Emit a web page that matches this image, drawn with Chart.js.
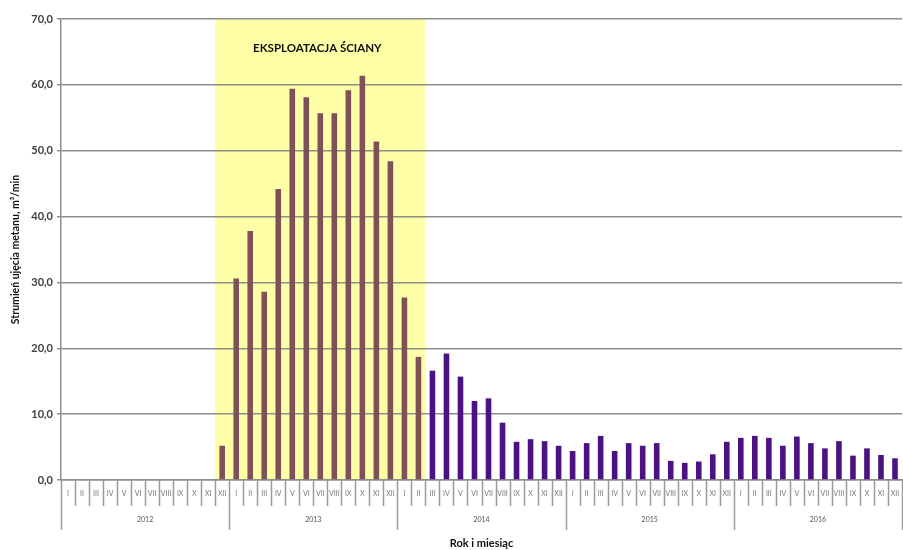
<!DOCTYPE html>
<html><head><meta charset="utf-8">
<script src="https://cdn.jsdelivr.net/npm/chart.js@4/dist/chart.umd.min.js"></script>
<style>html,body{margin:0;padding:0;background:#fff}#wrap{width:903px;height:550px;position:relative}</style>
</head><body><div id="wrap"><canvas id="c"></canvas></div>
<script>
const years = ['2012', '2013', '2014', '2015', '2016'];
const months = ['I','II','III','IV','V','VI','VII','VIII','IX','X','XI','XII'];
const v2012 = [null,null,null,null,null,null,null,null,null,null,null,5.2];
const v2013 = [30.6,37.8,28.6,44.2,59.4,58.1,55.7,55.7,59.2,61.4,51.4,48.4];
const v2014 = [27.7,18.7,16.6,19.2,15.7,12.0,12.4,8.7,5.8,6.2,5.9,5.2];
const v2015 = [4.4,5.6,6.7,4.4,5.6,5.2,5.6,2.9,2.6,2.8,3.9,5.8];
const v2016 = [6.4,6.7,6.4,5.2,6.6,5.6,4.8,5.9,3.7,4.8,3.8,3.3];
const bandStart = 11;   // 2012 XII
const bandEnd = 25;     // 2014 II
const bandLabel = 'EKSPLOATACJA ŚCIANY';
const yTitle = 'Strumień ujęcia metanu, m³/min';
const xTitle = 'Rok i miesiąc';

const allValues = [].concat(v2012, v2013, v2014, v2015, v2016);
const labels = [];
years.forEach(() => months.forEach(m => labels.push(m)));
const exploitation = allValues.map((v, i) => (i >= bandStart && i <= bandEnd) ? v : null);
const afterwards = allValues.map((v, i) => (i > bandEnd) ? v : null);

const FONT = 'Lato, "Open Sans", sans-serif';

const bandPlugin = {
  id: 'band',
  beforeDraw(chart) {
    const {ctx, chartArea} = chart;
    const x = chart.scales.x;
    const half = (x.getPixelForValue(1) - x.getPixelForValue(0)) / 2;
    const x0 = x.getPixelForValue(bandStart) - half;
    const x1 = x.getPixelForValue(bandEnd) + half;
    ctx.save();
    ctx.fillStyle = '#FFFFA8';
    ctx.fillRect(x0, chartArea.top, x1 - x0, chartArea.bottom - chartArea.top);
    ctx.fillStyle = '#111';
    ctx.font = 'bold 11.5px ' + FONT;
    ctx.textAlign = 'center';
    ctx.textBaseline = 'middle';
    ctx.fillText(bandLabel, (x0 + x1) / 2 - 3, chart.scales.y.getPixelForValue(65.6));
    ctx.restore();
  },
  afterDraw(chart) {
    const {ctx, chartArea} = chart;
    const x = chart.scales.x;
    const half = (x.getPixelForValue(1) - x.getPixelForValue(0)) / 2;
    ctx.save();
    ctx.strokeStyle = '#9a9a9a';
    ctx.lineWidth = 1.5;
    for (let i = 0; i <= labels.length; i++) {
      const px = (i < labels.length ? x.getPixelForValue(i) - half : x.getPixelForValue(labels.length - 1) + half);
      const len = (i % months.length === 0) ? 50 : 26;
      ctx.beginPath();
      ctx.moveTo(Math.round(px) + 0.5, chartArea.bottom);
      ctx.lineTo(Math.round(px) + 0.5, chartArea.bottom + len);
      ctx.stroke();
    }
    ctx.restore();
  }
};

new Chart(document.getElementById('c'), {
  type: 'bar',
  data: {
    labels: labels,
    datasets: [
      { label: 'exploitation', data: exploitation, backgroundColor: '#7E5057', borderWidth: 0,
        barPercentage: 0.4, categoryPercentage: 1, grouped: false },
      { label: 'after', data: afterwards, backgroundColor: '#4B1282', borderWidth: 0,
        barPercentage: 0.4, categoryPercentage: 1, grouped: false }
    ]
  },
  options: {
    responsive: true,
    maintainAspectRatio: false,
    animation: false,
    layout: { padding: { top: 19, right: 1, left: 0, bottom: 0 } },
    plugins: { legend: { display: false }, tooltip: { enabled: false } },
    scales: {
      y: {
        min: 0, max: 70,
        afterFit: s => { s.width = 61; },
        ticks: { stepSize: 10, padding: 4, color: '#404040',
          font: { family: FONT, size: 11, weight: 'bold' },
          callback: v => v.toFixed(1).replace('.', ',') },
        grid: { color: '#8e8e8e', lineWidth: 1.5, tickLength: 4 },
        border: { color: '#8e8e8e', width: 1.5 },
        title: { display: true, text: yTitle, color: '#111',
          font: { family: FONT, size: 10.5, weight: 'bold' }, padding: { top: 9, bottom: 0 } }
      },
      x: {
        type: 'category',
        position: 'bottom',
        afterFit: s => { s.height = 26; s.paddingLeft = 0; s.paddingRight = 0; },
        grid: { display: true, drawOnChartArea: false, drawTicks: false, offset: true },
        border: { color: '#8e8e8e', width: 1.5 },
        ticks: { autoSkip: false, maxRotation: 0, minRotation: 0, padding: 10, color: '#777',
          font: { family: FONT, size: 7 } }
      },
      xYear: {
        type: 'category',
        axis: 'x',
        position: 'bottom',
        labels: years,
        offset: true,
        afterFit: s => { s.height = 44; s.paddingLeft = 0; s.paddingRight = 0; },
        grid: { display: false, drawTicks: false },
        border: { display: false },
        ticks: { autoSkip: false, maxRotation: 0, padding: 10, color: '#555',
          font: { family: FONT, size: 7 } },
        title: { display: true, text: xTitle, color: '#111',
          font: { family: FONT, size: 11, weight: 'bold' }, padding: { top: 0, bottom: 0 } }
      }
    }
  },
  plugins: [bandPlugin]
});
</script>
</body></html>
